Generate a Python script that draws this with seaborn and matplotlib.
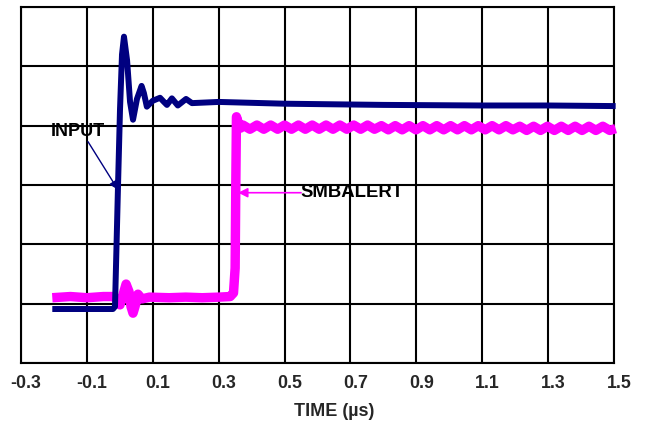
import matplotlib
matplotlib.use("Agg")
import matplotlib.pyplot as plt
import matplotlib.transforms as mtransforms
import seaborn as sns
import pandas as pd

# ---- data (time in us, amplitude in grid divisions) ----
INPUT_T = [-0.205, -0.10, -0.021, -0.0147, -0.0056, 0.0005, 0.0066, 0.0126, 0.022, 0.031,
           0.040, 0.052, 0.066, 0.073, 0.082, 0.100, 0.122, 0.134, 0.143, 0.158, 0.176,
           0.201, 0.219, 0.30, 0.50, 0.80, 1.10, 1.30, 1.505]
INPUT_V = [0.91, 0.91, 0.91, 0.95, 2.97, 4.27, 5.20, 5.50, 5.10, 4.40,
           4.10, 4.45, 4.67, 4.55, 4.32, 4.42, 4.47, 4.40, 4.35, 4.46, 4.34,
           4.45, 4.38, 4.40, 4.37, 4.35, 4.34, 4.34, 4.33]

SMB_T = [-0.205, -0.15, -0.10, -0.05, -0.02, -0.009, 0.0005, 0.0096, 0.019, 0.028,
         0.034, 0.040, 0.046, 0.055, 0.067, 0.090, 0.15, 0.20, 0.25, 0.30, 0.335,
         0.345, 0.350, 0.352, 0.354, 0.360, 0.367,
         0.374, 0.395, 0.416, 0.437, 0.458, 0.479, 0.500, 0.521, 0.542, 0.563,
         0.584, 0.605, 0.626, 0.647, 0.668, 0.689, 0.710, 0.731, 0.752, 0.773,
         0.794, 0.815, 0.836, 0.857, 0.878, 0.899, 0.920, 0.941, 0.962, 0.983,
         1.004, 1.025, 1.046, 1.067, 1.088, 1.109, 1.130, 1.151, 1.172, 1.193,
         1.214, 1.235, 1.256, 1.277, 1.298, 1.319, 1.340, 1.361, 1.382, 1.403,
         1.424, 1.445, 1.466, 1.487, 1.505]
SMB_V = [1.10, 1.12, 1.10, 1.12, 1.12, 1.08, 0.98, 1.15, 1.33, 1.20,
         0.95, 0.84, 0.95, 1.16, 1.08, 1.11, 1.10, 1.11, 1.10, 1.11, 1.12,
         1.18, 1.60, 3.00, 4.15, 4.04, 3.96,
         4.01, 3.94, 4.01, 3.94, 4.01, 3.94, 4.01, 3.94, 4.01, 3.94,
         4.01, 3.94, 4.01, 3.94, 4.01, 3.94, 4.01, 3.94, 4.01, 3.94,
         4.00, 3.93, 4.00, 3.93, 4.00, 3.93, 4.00, 3.93, 4.00, 3.93,
         4.00, 3.93, 4.00, 3.93, 4.00, 3.93, 4.00, 3.93, 4.00, 3.93,
         3.99, 3.92, 3.99, 3.92, 3.99, 3.92, 3.99, 3.92, 3.99, 3.92,
         3.99, 3.92, 3.99, 3.92, 3.95]

X_TICKS = [-0.3, -0.1, 0.1, 0.3, 0.5, 0.7, 0.9, 1.1, 1.3, 1.5]
X_LABELS = ["-0.3", "-0.1", "0.1", "0.3", "0.5", "0.7", "0.9", "1.1", "1.3", "1.5"]
Y_GRID = [0, 1, 2, 3, 4, 5, 6]

NAVY = "#000080"
MAGENTA = "#FF00FF"

sns.set_theme(style="white")
plt.rcParams['font.family'] = ['Liberation Sans', 'DejaVu Sans']

fig = plt.figure(figsize=(6.47, 4.26), dpi=100)
ax = fig.add_axes([21 / 647, 63 / 426, 593 / 647, 356 / 426])

df_in = pd.DataFrame({"t": INPUT_T, "v": INPUT_V})
df_smb = pd.DataFrame({"t": SMB_T, "v": SMB_V})

sns.lineplot(data=df_smb, x="t", y="v", sort=False, estimator=None, ax=ax,
             color=MAGENTA, linewidth=6.8, zorder=3)
sns.lineplot(data=df_in, x="t", y="v", sort=False, estimator=None, ax=ax,
             color=NAVY, linewidth=4.3, zorder=4)
for ln in ax.get_lines():
    ln.set_clip_on(False)
    ln.set_solid_joinstyle("round")
    ln.set_solid_capstyle("butt")

ax.set_xlim(-0.3, 1.5)
ax.set_ylim(0, 6)
ax.set_xticks(X_TICKS)
ax.set_xticklabels(X_LABELS, fontsize=12.8, fontweight="bold")
ax.set_yticks(Y_GRID)
ax.set_yticklabels([])
ax.tick_params(axis="both", length=0, pad=9)
ax.grid(True, color="black", linewidth=1.5)
ax.set_axisbelow(True)
for s in ax.spines.values():
    s.set_color("black")
    s.set_linewidth(1.5)
    s.set_visible(True)

offset = mtransforms.ScaledTranslation(5 / 100, 0, fig.dpi_scale_trans)
for lab in ax.get_xticklabels():
    lab.set_transform(lab.get_transform() + offset)

ax.set_ylabel("")
ax.set_xlabel("TIME (µs)", fontsize=13, fontweight="bold")
ax.xaxis.set_label_coords((334 - 21) / 593, -(412 - 363) / 356)
ax.xaxis.label.set_verticalalignment("center")

# annotations
ax.text(-0.127, 3.91, "INPUT", fontsize=13, fontweight="bold",
        ha="center", va="center", color="black", zorder=6)
ax.annotate("", xy=(-0.0056, 2.92), xytext=(-0.0966, 3.73),
            arrowprops=dict(arrowstyle="-|>", color=NAVY, lw=1.0,
                            mutation_scale=13, shrinkA=0, shrinkB=0), zorder=6)
ax.text(0.705, 2.87, "SMBALERT", fontsize=13.3, fontweight="bold",
        ha="center", va="center", color="black", zorder=6)
ax.annotate("", xy=(0.359, 2.87), xytext=(0.55, 2.87),
            arrowprops=dict(arrowstyle="-|>", color=MAGENTA, lw=1.2,
                            mutation_scale=14, shrinkA=0, shrinkB=0), zorder=6)

fig.savefig("out.png", dpi=100)
